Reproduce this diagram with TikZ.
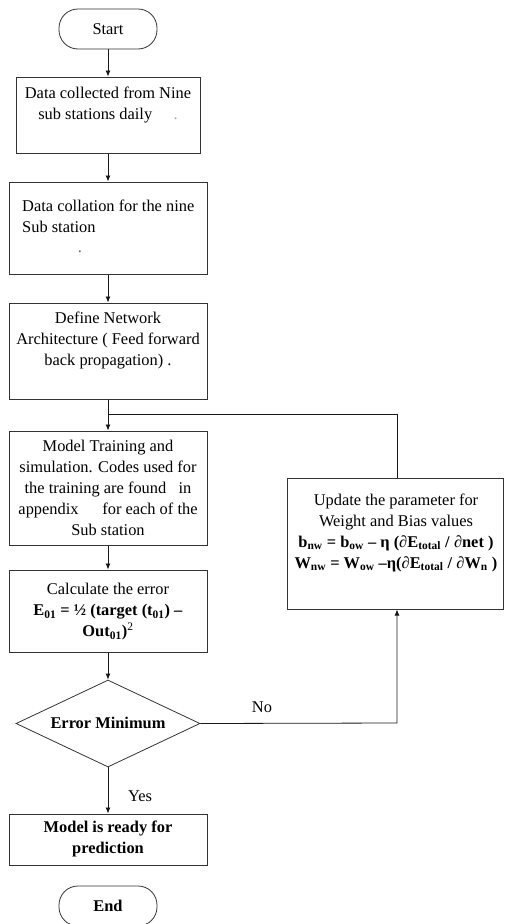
\documentclass[tikz,border=0pt]{standalone}
\usepackage{fontspec}
\setmainfont{Liberation Serif}
\usetikzlibrary{arrows.meta,shapes.geometric}
\begin{document}
\begin{tikzpicture}[x=1pt,y=-1pt,
  box/.style={draw=black!80,line width=1pt,inner sep=0pt,rectangle},
  term/.style={draw=black!80,line width=0.8pt,inner sep=0pt,rectangle,rounded corners=19pt,minimum width=98pt,minimum height=40pt},
  txt/.style={inner sep=0pt,align=center,font=\fontsize{16.4}{21}\selectfont},
  arr/.style={draw=black!90,line width=0.8pt,-{Latex[length=6pt,width=5pt]}},
  ln/.style={draw=black!90,line width=0.8pt}]
\useasboundingbox (0,0) rectangle (505,924);
% terminals
\node[term] (start) at (108,29) {};
\node[txt] (tstart) at (108,29) {Start};
\node[term] (end) at (108,906) {};
\node[txt] (tend) at (108,906) {\textbf{End}};
% boxes
\node[box,minimum width=184pt,minimum height=76pt] (b1) at (108,115) {};
\node[txt] (t1) at (108,105) {Data collected from Nine\\sub stations daily\hspace{1.3em}{\color{black!35}.}};
\node[box,minimum width=198pt,minimum height=92pt] (b2) at (108,228) {};
\node[txt,align=left,anchor=west] (t2) at (22,216) {Data collation for the nine\\Sub station};
\node[txt,text=black!60] (t2dot) at (80,252) {.};
\node[box,minimum width=198pt,minimum height=96pt] (b3) at (108,351) {};
\node[txt] (t3) at (108,340) {Define Network\\Architecture ( Feed forward\\back propagation) .};
\node[box,minimum width=198pt,minimum height=114pt] (b4) at (108,488) {};
\node[txt] (t4) at (108,488) {Model Training and\\simulation. Codes used for\\the training are found\hspace{0.5em} in\\appendix\hspace{1.2em} for each of the\\Sub station};
\node[box,minimum width=198pt,minimum height=82pt] (b5) at (108,611) {};
\node[txt] (t5) at (108,612) {Calculate the error\\\textbf{E\textsubscript{01} = ½ (target (t\textsubscript{01}) –}\\\textbf{Out\textsubscript{01})}\textsuperscript{2}};
\node[diamond,draw=black!80,line width=0.8pt,inner sep=0pt,minimum width=184pt,minimum height=87pt] (dec) at (108,723.5) {};
\node[txt] (tdec) at (108,723) {\textbf{Error Minimum}};
\node[box,minimum width=216pt,minimum height=131pt] (b6) at (395,543.5) {};
\node[txt] (t6) at (396,532.5) {Update the parameter for\\Weight and Bias values\\\textbf{b\textsubscript{nw} = b\textsubscript{ow} – η (}∂\textbf{E\textsubscript{total} / }∂\textbf{net )}\\\textbf{W\textsubscript{nw} = W\textsubscript{ow} –η(}∂\textbf{E\textsubscript{total} / }∂\textbf{W\textsubscript{n} )}};
\node[box,minimum width=198pt,minimum height=51pt] (b7) at (108,839.5) {};
\node[txt] (t7) at (108,838.5) {\textbf{Model is ready for}\\\textbf{prediction}};
% labels
\node[txt] (lno) at (262,707) {No};
\node[txt] (lyes) at (140,796) {Yes};
% connectors
\draw[arr] (start) -- (b1);
\draw[arr] (b1) -- (b2);
\draw[arr] (b2) -- (b3);
\draw[arr] (b3) -- (b4);
\draw[arr] (b4) -- (b5);
\draw[arr] (b5) -- (dec);
\draw[arr] (dec) -- (b7);
\coordinate (fb) at (397,723);
\coordinate (fbtop) at (397,414);
\coordinate (join) at (108,414);
\draw[arr] (dec.east) -- (fb) -- (b6.south -| fb);
\draw[ln] (b6.north -| fbtop) -- (fbtop) -- (join);
\end{tikzpicture}
\end{document}
